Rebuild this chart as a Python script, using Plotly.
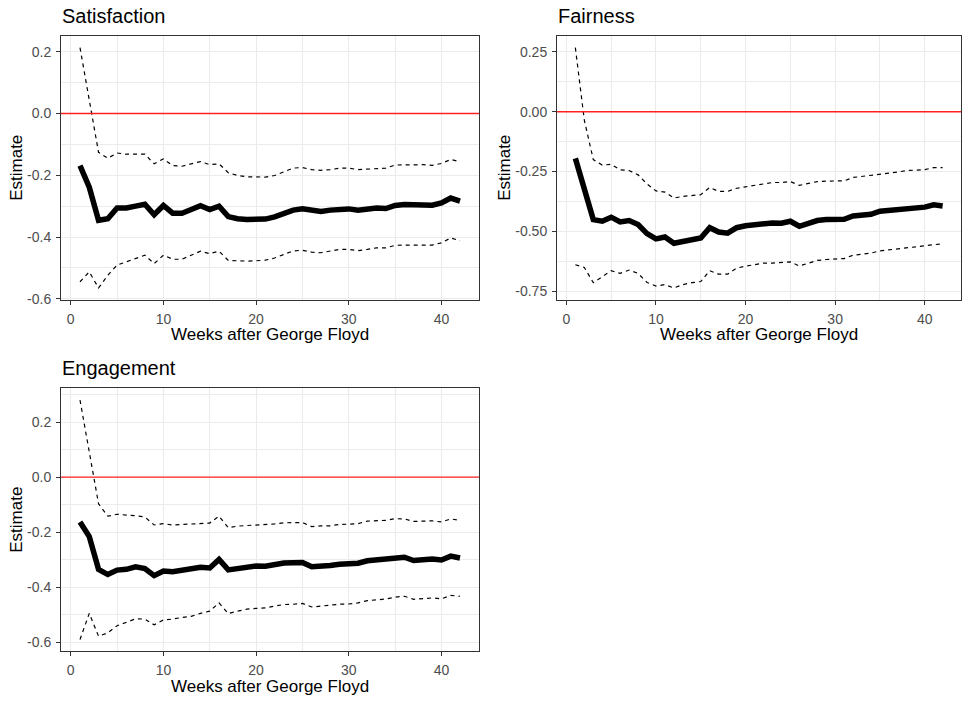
import plotly.graph_objects as go

weeks = list(range(1, 43))

sat_est = [-0.169, -0.239, -0.346, -0.341, -0.306, -0.306, -0.300, -0.294, -0.328, -0.298,
           -0.323, -0.323, -0.311, -0.299, -0.311, -0.300, -0.334, -0.341, -0.343, -0.342,
           -0.342, -0.335, -0.325, -0.313, -0.309, -0.314, -0.317, -0.313, -0.309, -0.309,
           -0.313, -0.309, -0.306, -0.308, -0.298, -0.295, -0.295, -0.294, -0.297, -0.290,
           -0.274, -0.284]
sat_hi = [0.213, 0.050, -0.126, -0.145, -0.128, -0.132, -0.133, -0.132, -0.163, -0.147,
          -0.169, -0.171, -0.163, -0.156, -0.166, -0.163, -0.192, -0.201, -0.205, -0.205,
          -0.206, -0.201, -0.188, -0.177, -0.175, -0.182, -0.184, -0.182, -0.177, -0.177,
          -0.182, -0.180, -0.177, -0.177, -0.167, -0.166, -0.166, -0.166, -0.168, -0.162,
          -0.149, -0.156]
sat_lo = [-0.545, -0.513, -0.565, -0.524, -0.491, -0.481, -0.470, -0.459, -0.486, -0.459,
          -0.472, -0.472, -0.459, -0.446, -0.454, -0.446, -0.476, -0.478, -0.478, -0.477,
          -0.475, -0.468, -0.456, -0.445, -0.443, -0.449, -0.451, -0.446, -0.440, -0.440,
          -0.444, -0.440, -0.435, -0.435, -0.427, -0.426, -0.426, -0.424, -0.426, -0.419,
          -0.403, -0.412]

fair_est = [-0.195, -0.333, -0.451, -0.458, -0.441, -0.461, -0.455, -0.472, -0.510, -0.532,
            -0.524, -0.550, -0.541, -0.532, -0.528, -0.485, -0.503, -0.508, -0.485, -0.477,
            -0.474, -0.466, -0.465, -0.466, -0.458, -0.479, -0.466, -0.455, -0.451, -0.451,
            -0.450, -0.436, -0.432, -0.429, -0.416, -0.412, -0.408, -0.402, -0.402, -0.399,
            -0.389, -0.394]
fair_hi = [0.268, -0.035, -0.200, -0.223, -0.220, -0.243, -0.246, -0.264, -0.302, -0.331,
           -0.336, -0.361, -0.354, -0.350, -0.347, -0.317, -0.333, -0.333, -0.320, -0.314,
           -0.308, -0.300, -0.296, -0.296, -0.292, -0.308, -0.299, -0.292, -0.290, -0.290,
           -0.289, -0.275, -0.271, -0.267, -0.260, -0.256, -0.252, -0.246, -0.245, -0.242,
           -0.234, -0.234]
fair_lo = [-0.640, -0.651, -0.715, -0.690, -0.665, -0.676, -0.662, -0.676, -0.714, -0.729,
           -0.723, -0.737, -0.723, -0.715, -0.710, -0.665, -0.679, -0.679, -0.654, -0.646,
           -0.638, -0.633, -0.633, -0.632, -0.628, -0.645, -0.633, -0.622, -0.618, -0.617,
           -0.614, -0.600, -0.596, -0.591, -0.582, -0.578, -0.573, -0.567, -0.564, -0.562,
           -0.555, -0.552]

eng_est = [-0.163, -0.216, -0.335, -0.354, -0.338, -0.335, -0.326, -0.332, -0.358, -0.341,
           -0.344, -0.339, -0.337, -0.328, -0.330, -0.299, -0.337, -0.331, -0.325, -0.323,
           -0.324, -0.317, -0.312, -0.311, -0.310, -0.326, -0.321, -0.321, -0.317, -0.316,
           -0.313, -0.304, -0.301, -0.299, -0.293, -0.291, -0.303, -0.300, -0.298, -0.301,
           -0.287, -0.294]
eng_hi = [0.280, 0.084, -0.097, -0.142, -0.135, -0.138, -0.140, -0.145, -0.174, -0.169,
          -0.174, -0.172, -0.171, -0.169, -0.167, -0.142, -0.184, -0.178, -0.176, -0.174,
          -0.174, -0.170, -0.166, -0.166, -0.165, -0.180, -0.177, -0.177, -0.172, -0.171,
          -0.169, -0.160, -0.159, -0.157, -0.151, -0.152, -0.161, -0.160, -0.159, -0.163,
          -0.152, -0.157]
eng_lo = [-0.590, -0.495, -0.578, -0.566, -0.540, -0.527, -0.515, -0.516, -0.537, -0.519,
          -0.516, -0.510, -0.506, -0.495, -0.487, -0.457, -0.496, -0.487, -0.480, -0.477,
          -0.475, -0.469, -0.463, -0.462, -0.459, -0.472, -0.468, -0.465, -0.462, -0.461,
          -0.457, -0.449, -0.445, -0.443, -0.436, -0.433, -0.444, -0.442, -0.439, -0.442,
          -0.430, -0.433]

titles = ["Satisfaction", "Fairness", "Engagement"]
x_ticks = [0, 10, 20, 30, 40]
sat_yticks = [-0.6, -0.4, -0.2, 0.0, 0.2]
sat_ylabels = ["-0.6", "-0.4", "-0.2", "0.0", "0.2"]
fair_yticks = [-0.75, -0.5, -0.25, 0.0, 0.25]
fair_ylabels = ["-0.75", "-0.50", "-0.25", "0.00", "0.25"]
x_title = "Weeks after George Floyd"
y_title = "Estimate"

W, H = 962, 702
FONT = "Liberation Sans, Arial, sans-serif"

# panel boxes in pixels: (left, right, top, bottom)
boxes = [(61, 479, 36, 303), (557, 961, 36, 303), (61, 479, 392, 658)]
panels = [
    (sat_est, sat_lo, sat_hi, sat_yticks, sat_ylabels, 0.1),
    (fair_est, fair_lo, fair_hi, fair_yticks, fair_ylabels, 0.125),
    (eng_est, eng_lo, eng_hi, sat_yticks, sat_ylabels, 0.1),
]

fig = go.Figure()
layout = dict(
    width=W, height=H, margin=dict(l=0, r=0, t=0, b=0),
    paper_bgcolor="white", plot_bgcolor="white", showlegend=False,
    font=dict(family=FONT),
)
annotations = []

def px_x(p):
    return p / W

def px_y(p):
    return 1 - p / H

for i, ((est, lo, hi, yt, yl, ydt), (l, r, t, b), title) in enumerate(zip(panels, boxes, titles)):
    sfx = "" if i == 0 else str(i + 1)
    xa, ya = "x" + sfx, "y" + sfx
    allv = est + lo + hi + [0.0]
    vmin, vmax = min(allv), max(allv)
    pad = 0.05 * (vmax - vmin)
    yr = [vmin - pad, vmax + pad]
    xr = [1 - 0.05 * 41, 42 + 0.05 * 41]

    for series in (lo, hi):
        fig.add_trace(go.Scatter(x=weeks, y=series, mode="lines", xaxis=xa, yaxis=ya,
                                 line=dict(color="black", width=1.2, dash="4px,4px")))
    fig.add_trace(go.Scatter(x=weeks, y=est, mode="lines", xaxis=xa, yaxis=ya,
                             line=dict(color="black", width=5.5)))
    fig.add_trace(go.Scatter(x=xr, y=[0, 0], mode="lines", xaxis=xa, yaxis=ya,
                             line=dict(color="#FF2020", width=1.4)))

    common = dict(showline=True, mirror=True, linecolor="#333333", linewidth=1,
                  ticks="outside", ticklen=4, tickcolor="#333333", tickwidth=1,
                  showgrid=True, gridcolor="#EBEBEB", gridwidth=1, zeroline=False,
                  tickfont=dict(size=14, color="#4D4D4D", family=FONT),
                  ticklabelstandoff=2)
    layout["xaxis" + sfx] = dict(common, domain=[px_x(l), px_x(r)], range=xr,
                                 anchor=ya, tickvals=x_ticks,
                                 ticktext=[str(v) for v in x_ticks],
                                 minor=dict(dtick=5, tick0=0, showgrid=True,
                                            gridcolor="#EBEBEB", gridwidth=0.6, ticks=""))
    layout["yaxis" + sfx] = dict(common, domain=[px_y(b), px_y(t)], range=yr,
                                 anchor=xa, tickvals=yt, ticktext=yl,
                                 minor=dict(dtick=ydt, tick0=0, showgrid=True,
                                            gridcolor="#EBEBEB", gridwidth=0.6, ticks=""))

    annotations.append(dict(text=title, xref="paper", yref="paper", x=px_x(l - 1),
                            y=px_y(t - 20), xanchor="left", yanchor="middle",
                            showarrow=False, font=dict(size=20, color="black", family=FONT)))
    annotations.append(dict(text=x_title, xref="paper", yref="paper", x=px_x((l + r) / 2),
                            y=px_y(b + 35), xanchor="center", yanchor="middle",
                            showarrow=False, font=dict(size=17, color="black", family=FONT)))
    annotations.append(dict(text=y_title, xref="paper", yref="paper", x=px_x(l - 44 if i != 1 else l - 52),
                            y=px_y((t + b) / 2), xanchor="center", yanchor="middle", textangle=-90,
                            showarrow=False, font=dict(size=17, color="black", family=FONT)))

layout["annotations"] = annotations
fig.update_layout(**layout)
fig.write_html("out.html")
